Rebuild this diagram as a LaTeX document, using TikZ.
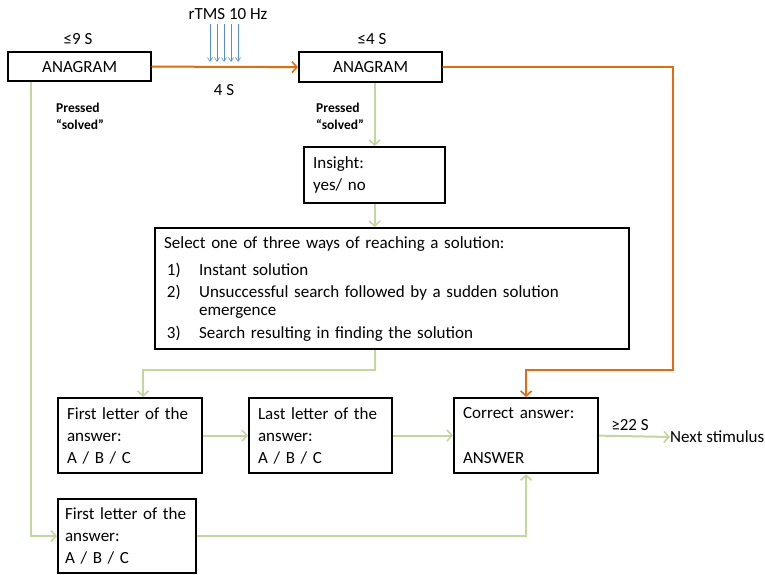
\documentclass[tikz,border=0pt]{standalone}
\usepackage{fontspec}
\setmainfont{Carlito}
\usetikzlibrary{arrows.meta}
\definecolor{ordkorange}{RGB}{228,108,10}
\definecolor{ordgreen}{RGB}{195,214,155}
\definecolor{ordblue}{RGB}{85,142,213}
\begin{document}
\begin{tikzpicture}[x=1pt,y=-1pt,
  every node/.style={font=\fontsize{17}{22}\selectfont, inner sep=0pt},
  box/.style={draw=black, line width=2.2pt, anchor=north west, align=left,
    inner xsep=9pt, inner ysep=0pt},
  orangeline/.style={draw=ordkorange, line width=2pt, line cap=round,
    -{Straight Barb[length=5pt,width=11pt,line width=1.6pt]}},
  greenline/.style={draw=ordgreen, line width=2pt,
    -{Straight Barb[length=5pt,width=11pt,line width=1.6pt]}},
  pulse/.style={draw=ordblue, line width=0.7pt,
    -{Straight Barb[length=4pt,width=5pt,line width=0.6pt]}},
  smallbold/.style={font=\fontsize{13.5}{17}\selectfont\bfseries, align=left, anchor=west}]
\useasboundingbox (0,0) rectangle (765,574);

% boxes
\node[box, minimum width=143pt, minimum height=29pt, align=center, text width=125pt] (a1) at (7,51) {ANAGRAM};
\node[box, minimum width=143pt, minimum height=30pt, align=center, text width=125pt] (a2) at (298,51) {ANAGRAM};
\node[box, minimum width=141pt, minimum height=56pt, text width=123pt] (ins) at (303,146) {Insight:\\yes/ no};
\node[box, minimum width=474pt, minimum height=121pt, text width=456pt, inner xsep=8pt] (sel) at (154,227)
  {Select one of three ways of reaching a solution:\\[5pt]
   \makebox[35pt][l]{\,1)}Instant solution\\
   \makebox[35pt][l]{\,2)}Unsuccessful search followed by a sudden solution\\[-4pt]
   \makebox[35pt][l]{}emergence\\[1pt]
   \makebox[35pt][l]{\,3)}Search resulting in finding the solution};
\node[box, minimum width=144pt, minimum height=75pt, text width=126pt] (fl1) at (57,397) {First letter of the\\answer:\\A / B / C};
\node[box, minimum width=143pt, minimum height=75pt, text width=125pt] (ll) at (248,397) {Last letter of the\\answer:\\A / B / C};
\node[box, minimum width=144pt, minimum height=75pt, text width=126pt] (ca) at (453,397) {Correct answer:\\[23pt]ANSWER};
\node[box, minimum width=138pt, minimum height=74pt, text width=124pt, inner xsep=7pt] (fl2) at (57,498) {First letter of the\\answer:\\A / B / C};
\node[anchor=west] (next) at (670,437) {Next stimulus};

% labels
\node (t1) at (78,39) {≤9 S};
\node (t2) at (372,39) {≤4 S};
\node (rtms) at (228,14) {rTMS 10 Hz};
\node (d4) at (224,90) {4 S};
\node (t3) at (630,425) {≥22 S};
\node[smallbold] (p1) at (56,116) {Pressed\\“solved”};
\node[smallbold] (p2) at (316,116) {Pressed\\“solved”};

% stimulation pulses
\foreach \px in {210,217,224,231,238}
  \draw[pulse] (\px,24) -- (\px,62);

% connectors
\coordinate (gleft) at (31,533);
\coordinate (gturn) at (143,370);
\coordinate (oturn) at (673,370);

\draw[orangeline] (a1.east) -- (a2.west);
\draw[orangeline] (a2.east) -| (oturn) -| (ca.north);

\draw[greenline] (a1.south -| gleft) |- (fl2.west);
\draw[greenline] (a2.south -| ins.north) -- (ins.north);
\draw[greenline] (ins.south) -- (ins.south |- sel.north);
\draw[greenline] (sel.south -| ins.south) |- (gturn) -- (gturn |- fl1.north);
\draw[greenline] (fl1.east) -- (ll.west);
\draw[greenline] (ll.east) -- (ca.west);
\draw[greenline] (ca.east) -- (next.west);
\draw[greenline] (fl2.east) -| (ca.south);
\end{tikzpicture}
\end{document}
